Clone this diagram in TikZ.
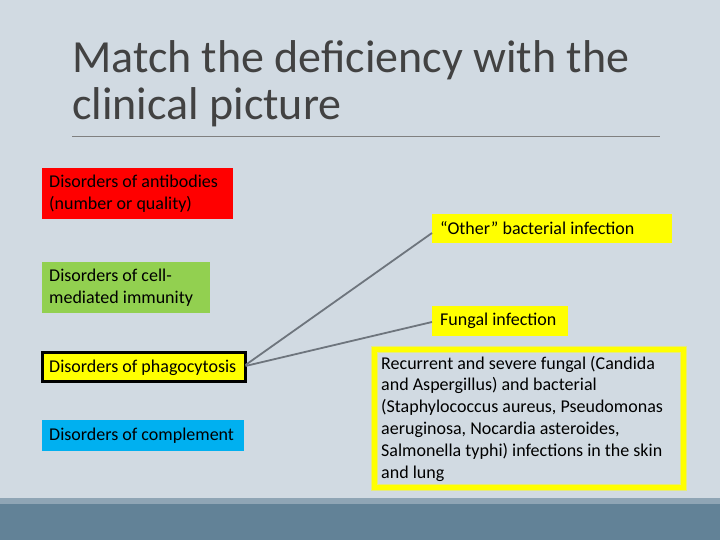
\documentclass[tikz,border=0pt]{standalone}
\usepackage{fontspec}
\setmainfont{Carlito}
\definecolor{bg}{RGB}{209,218,226}
\definecolor{barlight}{RGB}{143,165,181}
\definecolor{bardark}{RGB}{98,130,151}
\definecolor{titlec}{RGB}{66,66,66}
\definecolor{rulec}{RGB}{128,128,128}
\definecolor{linkc}{RGB}{110,117,125}
\definecolor{redbox}{RGB}{255,0,0}
\definecolor{greenbox}{RGB}{146,208,80}
\definecolor{bluebox}{RGB}{0,176,240}
\definecolor{yelbox}{RGB}{255,255,0}
\begin{document}
\begin{tikzpicture}[x=1pt,y=-1pt,
  boxshape/.style={rectangle,anchor=north west,inner sep=0pt,outer sep=0pt},
  txt/.style={anchor=west,inner sep=0pt,align=left,
    font=\fontsize{18}{21.8}\selectfont,text=black},
  link/.style={draw=linkc,line width=1.8pt}]
\useasboundingbox (0,0) rectangle (720,540);
\fill[bg] (0,0) rectangle (720,540);
\fill[barlight] (0,498) rectangle (720,504);
\fill[bardark] (0,504) rectangle (720,540);
% title
\node[anchor=north west,inner sep=0pt,align=left,text=titlec,
  font=\fontsize{46}{47}\selectfont] (title) at (72,40)
  {Match the deficiency with the\\clinical picture};
\draw[rulec,line width=0.8pt] (72,136) -- (660,136);
% left boxes
\node[boxshape,fill=redbox,minimum width=191pt,minimum height=51pt] (ab) at (42,168) {};
\node[txt] (abt) at ([xshift=7pt]ab.west) {Disorders of antibodies\\(number or quality)};
\node[boxshape,fill=greenbox,minimum width=168pt,minimum height=51pt] (cmi) at (42,262) {};
\node[txt] (cmit) at ([xshift=7pt]cmi.west) {Disorders of cell-\\mediated immunity};
\node[boxshape,fill=yelbox,draw=black,line width=3pt,minimum width=203pt,minimum height=29pt] (phag) at (42.5,352.5) {};
\node[txt] (phagt) at ([xshift=6.5pt,yshift=-1pt]phag.west) {Disorders of phagocytosis};
\node[boxshape,fill=bluebox,minimum width=202pt,minimum height=31pt] (comp) at (42,420) {};
\node[txt] (compt) at ([xshift=7pt]comp.west) {Disorders of complement};
% right boxes
\node[boxshape,fill=yelbox,minimum width=240pt,minimum height=29pt] (other) at (432,214) {};
\node[txt] (othert) at ([xshift=8pt]other.west) {“Other” bacterial infection};
\node[boxshape,fill=yelbox,minimum width=136pt,minimum height=30pt] (fung) at (432,306) {};
\node[txt] (fungt) at ([xshift=8pt]fung.west) {Fungal infection};
\node[boxshape,draw=yelbox!45!bg,line width=7pt,minimum width=309pt,minimum height=138pt] (descglow) at (374.5,349.5) {};
\node[boxshape,draw=yelbox,line width=5pt,minimum width=309pt,minimum height=138pt] (desc) at (374.5,349.5) {};
\node[txt] (desct) at ([xshift=6.5pt]desc.west)
  {Recurrent and severe fungal (Candida\\and Aspergillus) and bacterial\\(Staphylococcus aureus, Pseudomonas\\aeruginosa, Nocardia asteroides,\\Salmonella typhi) infections in the skin\\and lung};
% connectors
\draw[link] ([yshift=2pt]phag.east) -- ([yshift=10pt]other.south west);
\draw[link] ([yshift=1pt]phag.east) -- ([yshift=-1pt]fung.west);
\end{tikzpicture}
\end{document}
